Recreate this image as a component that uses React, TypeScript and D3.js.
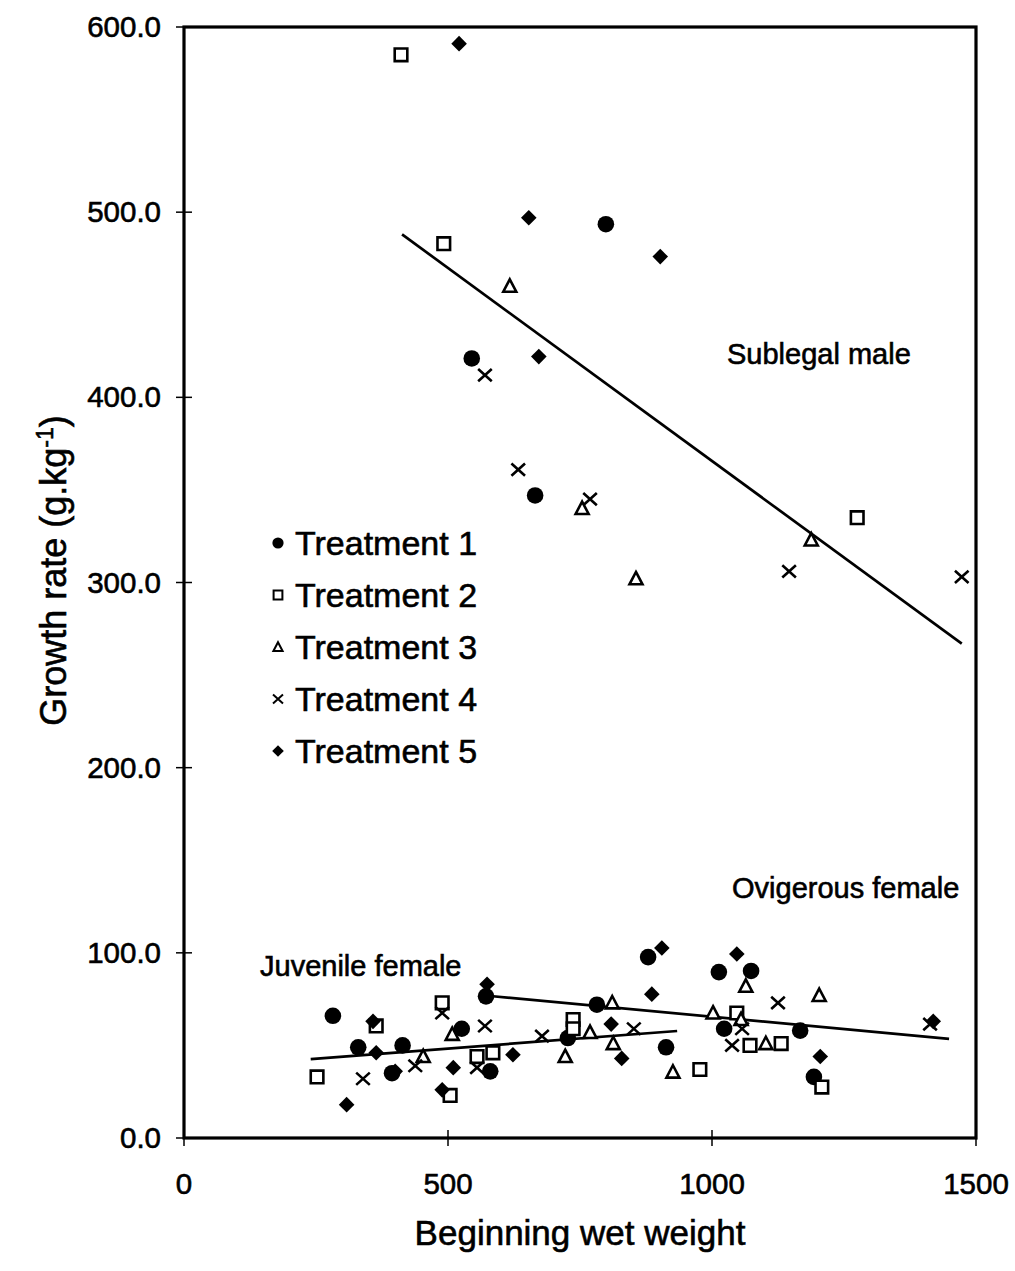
import React from "react";
import * as d3 from "d3";

const xTicks = [0, 500, 1000, 1500];
const yTicks = [0, 100, 200, 300, 400, 500, 600];
const treatmentNames = ["Treatment 1", "Treatment 2", "Treatment 3", "Treatment 4", "Treatment 5"];
const markerKinds = ["circle", "square", "triangle", "x", "diamond"];

const treatment1: [number, number][] = [
  [799, 493.5], [545, 421], [665, 347],
  [282, 66], [330, 49], [414, 50], [394, 35], [526, 59], [572, 76.5], [580, 36],
  [727, 54], [782, 72], [913, 49], [879, 97.7], [1013, 89.6], [1074, 90.2],
  [1023, 59], [1167, 58], [1193, 33],
];
const treatment2: [number, number][] = [
  [411, 585], [492, 483], [1275, 335],
  [364, 60.5], [252, 33], [489, 73], [504, 23], [555, 44], [585, 46], [737, 64],
  [737, 59], [977, 37], [1047, 67.5], [1072, 50], [1131, 51], [1208, 27.5],
];
const treatment3: [number, number][] = [
  [617, 460], [754, 340], [856, 302], [1188, 323],
  [453, 44], [508, 56], [722, 44], [769, 57], [811, 73], [813, 51], [926, 35.6],
  [1002, 67.5], [1064, 82], [1102, 51], [1203, 77], [1055, 64],
];
const treatment4: [number, number][] = [
  [570, 412], [633, 361], [769, 345], [1146, 306], [1473, 303],
  [339, 32], [438, 39], [489, 67.5], [570, 60.5], [555, 38], [678, 55], [852, 59],
  [1057, 59], [1038, 50], [1125, 73], [1413, 61.5],
];
const treatment5: [number, number][] = [
  [521, 591], [653, 497], [902, 476], [672, 422],
  [358, 63], [364, 46], [308, 18], [400, 36], [510, 38], [489, 26], [574, 83],
  [623, 45], [809, 61.5], [829, 43], [886, 77.7], [905, 102.6], [1047, 99.4],
  [1205, 44], [1419, 63],
];
const treatments = [treatment1, treatment2, treatment3, treatment4, treatment5];

const sublegalLine: [number, number][] = [[413, 488], [1473, 267]];
const juvenileLine: [number, number][] = [[240, 42.6], [934, 57.8]];
const ovigerousLine: [number, number][] = [[580, 76.7], [1449, 53.5]];
const trendLines = [sublegalLine, juvenileLine, ovigerousLine];

const groupLabels = ["Sublegal male", "Ovigerous female", "Juvenile female"];

const W = 1015;
const H = 1271;
const FONT = "'Liberation Sans', Arial, Helvetica, sans-serif";

const xScale = d3.scaleLinear().domain([0, 1500]).range([184, 976]);
const yScale = d3.scaleLinear().domain([0, 600]).range([1138, 27]);

function markerPath(kind: string, s: number): string {
  if (kind === "circle") {
    return d3.symbol(d3.symbolCircle, Math.PI * s * s)() as string;
  }
  const p = d3.path();
  if (kind === "square") {
    p.rect(-s, -s, 2 * s, 2 * s);
  } else if (kind === "triangle") {
    p.moveTo(0, -s * 1.05);
    p.lineTo(s * 1.0, s * 0.85);
    p.lineTo(-s * 1.0, s * 0.85);
    p.closePath();
  } else if (kind === "diamond") {
    p.moveTo(0, -s);
    p.lineTo(s, 0);
    p.lineTo(0, s);
    p.lineTo(-s, 0);
    p.closePath();
  } else if (kind === "x") {
    p.moveTo(-s, -s * 0.9);
    p.lineTo(s, s * 0.9);
    p.moveTo(s, -s * 0.9);
    p.lineTo(-s, s * 0.9);
  }
  return p.toString();
}

function markerStyle(kind: string) {
  if (kind === "circle" || kind === "diamond") {
    return { fill: "#000", stroke: "none", strokeWidth: 0 };
  }
  return { fill: kind === "x" ? "none" : "#fff", stroke: "#000", strokeWidth: 2.6 };
}

const plotSize: Record<string, number> = { circle: 8.3, square: 6.3, triangle: 6.5, x: 6.8, diamond: 7.8 };
const legendSize: Record<string, number> = { circle: 5.6, square: 4.4, triangle: 4.6, x: 5, diamond: 5.8 };

const textStyle = { fill: "#000", stroke: "#000", strokeWidth: 0.6 };

export default function App() {
  const line = d3
    .line<[number, number]>()
    .x((d) => xScale(d[0]))
    .y((d) => yScale(d[1]));

  const [x0, x1] = xScale.range();
  const [y0, y1] = yScale.range();
  const yMid = (y0 + y1) / 2;
  const xMid = (x0 + x1) / 2;

  return (
    <svg
      width={W}
      height={H}
      viewBox={`0 0 ${W} ${H}`}
      style={{ position: "absolute", left: 0, top: 0, background: "#fff" }}
      fontFamily={FONT}
    >
      <rect x={0} y={0} width={W} height={H} fill="#fff" />

      {/* trend lines */}
      {trendLines.map((l, i) => (
        <path key={"l" + i} d={line(l) as string} fill="none" stroke="#000" strokeWidth={2.7} />
      ))}

      {/* points */}
      {treatments.map((pts, ti) =>
        pts.map((d, i) => {
          const kind = markerKinds[ti];
          const st = markerStyle(kind);
          return (
            <path
              key={`p${ti}-${i}`}
              d={markerPath(kind, plotSize[kind])}
              transform={`translate(${xScale(d[0])},${yScale(d[1])})`}
              fill={st.fill}
              stroke={st.stroke}
              strokeWidth={st.strokeWidth}
            />
          );
        })
      )}

      {/* frame */}
      <rect x={x0} y={y1} width={x1 - x0} height={y0 - y1} fill="none" stroke="#000" strokeWidth={3.2} />

      {/* y ticks */}
      {yTicks.map((t) => (
        <g key={"yt" + t}>
          <line x1={x0 - 8} x2={x0 + 8} y1={yScale(t)} y2={yScale(t)} stroke="#000" strokeWidth={1.5} />
          <text x={161} y={yScale(t) + 10} textAnchor="end" fontSize={29.5} {...textStyle}>
            {t.toFixed(1)}
          </text>
        </g>
      ))}

      {/* x ticks */}
      {xTicks.map((t) => (
        <g key={"xt" + t}>
          <line x1={xScale(t)} x2={xScale(t)} y1={y0 - 8} y2={y0 + 8} stroke="#000" strokeWidth={1.5} />
          <text x={xScale(t)} y={1194} textAnchor="middle" fontSize={29.5} {...textStyle}>
            {t}
          </text>
        </g>
      ))}

      {/* axis titles */}
      <text x={xMid} y={1245} textAnchor="middle" fontSize={35} {...textStyle}>
        Beginning wet weight
      </text>
      <text transform={`translate(66,${yMid - 12}) rotate(-90)`} textAnchor="middle" fontSize={36} {...textStyle}>
        Growth rate (g.kg<tspan dy={-13} fontSize={23}>-1</tspan>
        <tspan dy={13}>)</tspan>
      </text>

      {/* group labels */}
      <text x={727} y={364} fontSize={29} {...textStyle}>{groupLabels[0]}</text>
      <text x={732} y={898} fontSize={29} {...textStyle}>{groupLabels[1]}</text>
      <text x={260} y={976} fontSize={29} {...textStyle}>{groupLabels[2]}</text>

      {/* legend */}
      {treatmentNames.map((name, i) => {
        const kind = markerKinds[i];
        const st = markerStyle(kind);
        const cy = 543 + i * 52;
        return (
          <g key={"lg" + i}>
            <path
              d={markerPath(kind, legendSize[kind])}
              transform={`translate(278,${cy})`}
              fill={st.fill}
              stroke={st.stroke}
              strokeWidth={kind === "circle" || kind === "diamond" ? 0 : 2}
            />
            <text x={295} y={cy + 12} fontSize={34} {...textStyle}>
              {name}
            </text>
          </g>
        );
      })}
    </svg>
  );
}
